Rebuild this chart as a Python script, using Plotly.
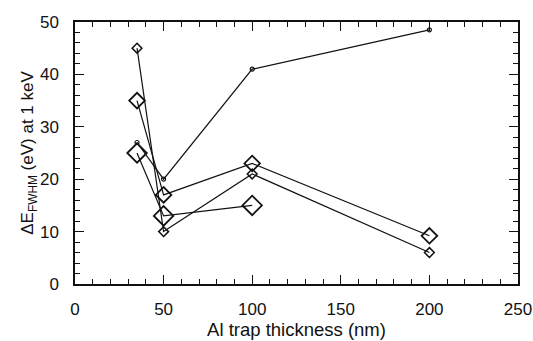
import plotly.graph_objects as go

# Al trap thickness (nm) and energy resolution (eV) at 1 keV
thickness = [35, 50, 100, 200]
dot_series = [27, 20, 41, 48.5]
small_diamond_series = [45, 10, 21, 6]
large_diamond_series = [35, 17, 23, 9.2]
thickness_short = [35, 50, 100]
big_diamond_series = [25, 13, 15]

x_ticks = [0, 50, 100, 150, 200, 250]
y_ticks = [0, 10, 20, 30, 40, 50]

ink = "#111111"
line = dict(color=ink, width=1.2)

fig = go.Figure()
fig.add_trace(go.Scatter(x=thickness, y=dot_series, mode="lines+markers", line=line,
                         marker=dict(symbol="circle-open", size=4, color=ink,
                                     line=dict(width=1.2, color=ink))))
fig.add_trace(go.Scatter(x=thickness, y=small_diamond_series, mode="lines+markers", line=line,
                         marker=dict(symbol="diamond-open", size=7.5, color=ink,
                                     line=dict(width=1.5, color=ink))))
fig.add_trace(go.Scatter(x=thickness, y=large_diamond_series, mode="lines+markers", line=line,
                         marker=dict(symbol="diamond-open", size=12, color=ink,
                                     line=dict(width=1.8, color=ink))))
fig.add_trace(go.Scatter(x=thickness_short, y=big_diamond_series, mode="lines+markers", line=line,
                         marker=dict(symbol="diamond-open", size=15, color=ink,
                                     line=dict(width=1.8, color=ink))))

family = "Liberation Sans, Arial, sans-serif"
tick_font = dict(family=family, size=17, color=ink)
title_font = dict(family=family, size=18.5, color=ink)

axis_common = dict(
    showgrid=False, zeroline=False, showline=True, linecolor=ink, linewidth=1.5,
    mirror="allticks", ticks="inside", ticklen=9, tickwidth=1.3, tickcolor=ink,
    tickfont=tick_font, automargin=False,
)

fig.update_xaxes(range=[0, 250], tickvals=x_ticks, ticklabelstandoff=9,
                 minor=dict(dtick=10, ticks="inside", ticklen=5, tickwidth=1, tickcolor=ink),
                 title=dict(text="Al trap thickness (nm)", font=title_font, standoff=4),
                 **axis_common)
fig.update_yaxes(range=[0, 50], tickvals=y_ticks, ticklabelstandoff=11,
                 minor=dict(dtick=2, ticks="inside", ticklen=5, tickwidth=1, tickcolor=ink),
                 title=dict(text="ΔE<sub>FWHM</sub> (eV) at 1 keV",
                            font=dict(family=family, size=17, color=ink), standoff=0),
                 **axis_common)

fig.update_layout(
    width=533, height=341,
    margin=dict(l=75, r=15, t=22, b=57),
    paper_bgcolor="white", plot_bgcolor="white",
    showlegend=False,
    font=tick_font,
)

fig.write_html("out.html")
